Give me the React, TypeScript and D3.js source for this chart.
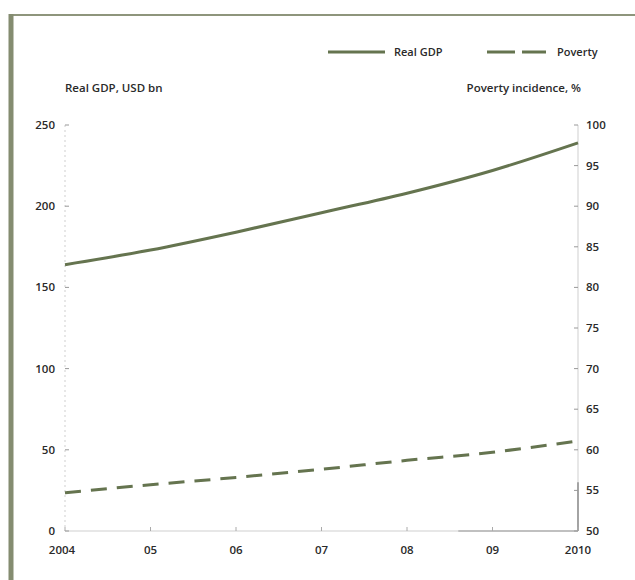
import React from "react";
import * as d3 from "d3";

const years = [2004, 2005, 2006, 2007, 2008, 2009, 2010];
const yearLabels = ["2004", "05", "06", "07", "08", "09", "2010"];
const realGDP = [164, 173, 184, 196, 208, 222, 239];
const poverty = [54.7, 55.7, 56.6, 57.6, 58.7, 59.7, 61.1];
const leftTicks = [0, 50, 100, 150, 200, 250];
const leftTickLabels = ["0", "50", "100", "150", "200", "250"];
const rightTicks = [50, 55, 60, 65, 70, 75, 80, 85, 90, 95, 100];

const W = 635;
const H = 580;
const LINE = "#65744f";
const TEXT = "#2a2a2a";
const AXIS = "#cfcfcf";
const FONT = "'Open Sans', 'DejaVu Sans', sans-serif";

export default function App() {
  const x = d3.scaleLinear().domain([2004, 2010]).range([65, 578]);
  const yL = d3.scaleLinear().domain([0, 250]).range([531, 125]);
  const yR = d3.scaleLinear().domain([50, 100]).range([531, 125]);

  const gdpLine = d3
    .line<number>()
    .x((_, i) => x(years[i]))
    .y((d) => yL(d))
    .curve(d3.curveMonotoneX);
  const povLine = d3
    .line<number>()
    .x((_, i) => x(years[i]))
    .y((d) => yR(d))
    .curve(d3.curveMonotoneX);

  return (
    <svg
      width={W}
      height={H}
      style={{ position: "absolute", left: 0, top: 0, background: "#fff" }}
      fontFamily={FONT}
    >
      <rect x={0} y={0} width={W} height={H} fill="#fff" />
      {/* frame */}
      <line x1={13} y1={15} x2={W} y2={15} stroke="#8e957c" strokeWidth={2} />
      <line x1={11} y1={14} x2={11} y2={H} stroke="#848c70" strokeWidth={5} />

      {/* legend */}
      <line x1={328} y1={52} x2={385} y2={52} stroke={LINE} strokeWidth={3} />
      <text x={394} y={56} fontSize={11} fontWeight={600} fill={TEXT}>Real GDP</text>
      <line x1={487} y1={52} x2={546} y2={52} stroke={LINE} strokeWidth={3} strokeDasharray="28 7" />
      <text x={557} y={56} fontSize={11} fontWeight={600} fill={TEXT}>Poverty</text>

      {/* axis titles */}
      <text x={65} y={92} fontSize={11.5} fontWeight={600} fill={TEXT}>Real GDP, USD bn</text>
      <text x={581} y={92} fontSize={11.5} fontWeight={600} fill={TEXT} textAnchor="end">Poverty incidence, %</text>

      {/* axes */}
      <line x1={x(2004)} y1={yL(250)} x2={x(2004)} y2={yL(0)} stroke={AXIS} strokeWidth={1} strokeDasharray="2 3" />
      <line x1={x(2004)} y1={yL(0)} x2={x(2010)} y2={yL(0)} stroke={AXIS} strokeWidth={1.2} />
      <line x1={x(2008.6)} y1={yL(0)} x2={x(2010)} y2={yL(0)} stroke="#9a9a9a" strokeWidth={1.2} />
      <line x1={x(2010)} y1={yR(100)} x2={x(2010)} y2={yR(50)} stroke={AXIS} strokeWidth={1} />
      <line x1={x(2010)} y1={yR(56)} x2={x(2010)} y2={yR(50)} stroke="#777" strokeWidth={1.2} />

      {leftTicks.map((t, i) => (
        <g key={"l" + t}>
          <line x1={x(2004)} y1={yL(t)} x2={x(2004) + 4} y2={yL(t)} stroke="#999" />
          <text x={55} y={yL(t)} dy="0.35em" textAnchor="end" fontSize={11.5} fontWeight={600} fill={TEXT}>
            {leftTickLabels[i]}
          </text>
        </g>
      ))}
      {rightTicks.map((t) => (
        <g key={"r" + t}>
          <line x1={x(2010) - 4} y1={yR(t)} x2={x(2010)} y2={yR(t)} stroke="#999" />
          <text x={586} y={yR(t)} dy="0.35em" textAnchor="start" fontSize={11.5} fontWeight={600} fill={TEXT}>
            {t}
          </text>
        </g>
      ))}
      {years.map((yr, i) => (
        <g key={"x" + yr}>
          <line x1={x(yr)} y1={yL(0)} x2={x(yr)} y2={yL(0) - 4} stroke="#aaa" />
          <text x={x(yr) - (i === 0 ? 3 : 0)} y={554} textAnchor="middle" fontSize={11.5} fontWeight={600} fill={TEXT}>
            {yearLabels[i]}
          </text>
        </g>
      ))}

      {/* series */}
      <path d={gdpLine(realGDP) || ""} fill="none" stroke={LINE} strokeWidth={3} />
      <path d={povLine(poverty) || ""} fill="none" stroke={LINE} strokeWidth={3} strokeDasharray="16 10" />
    </svg>
  );
}
